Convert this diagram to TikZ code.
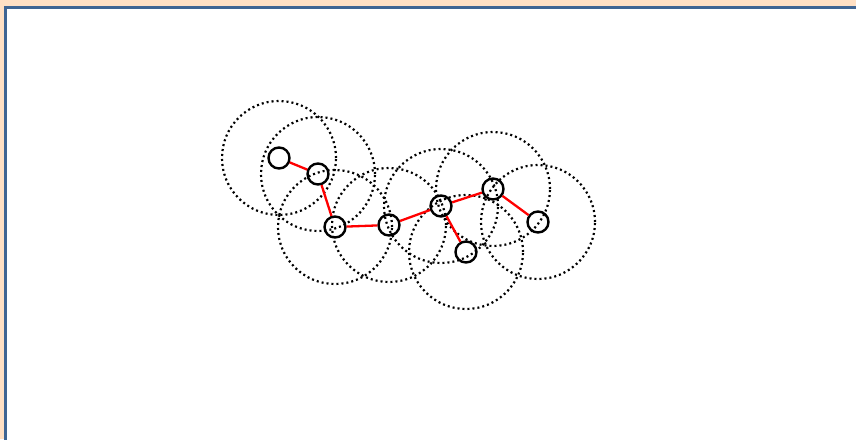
\documentclass[tikz,border=0pt]{standalone}
\usepackage{xcolor}
\usepackage{tikz}
\usetikzlibrary{positioning}
\definecolor{frm}{HTML}{3F6593}
\definecolor{frmbg}{HTML}{FFE0C4}
\tikzset{
  sensor/.style={draw, circle, line width=2.4pt, minimum size=21pt, inner sep=0pt},
  rangecirc/.style={draw, dash pattern=on 2pt off 3pt, line width=2.2pt},
  lnk/.style   ={draw=red, line width=2.3pt},
}

\begin{document}
\begin{tikzpicture}[x=1pt,y=-1pt]
\useasboundingbox (0,0) rectangle (856,439);
\fill[frmbg] (0,0) rectangle (856,439);
\clip (0,0) rectangle (856,439);
\filldraw[fill=white, draw=frm, line width=2.7pt] (5.5,446) -- (5.5,7.3) -- (864,7.3)
  -- (864,446) -- cycle;
% sensors
\node[sensor] (s1) at (279,158) {};
\node[sensor] (s2) at (318,174) {};
\node[sensor] (s3) at (335,227) {};
\node[sensor] (s4) at (389,225) {};
\node[sensor] (s5) at (441,206) {};
\node[sensor] (s6) at (493,189) {};
\node[sensor] (s7) at (538,222) {};
\node[sensor] (s8) at (466,252) {};
% ranges
\foreach \s in {s1,s2,s3,s4,s5,s6,s7,s8}{\draw[rangecirc] (\s.center) circle (57pt);}
% links
\foreach \a/\b in {s1/s2,s2/s3,s3/s4,s4/s5,s5/s6,s6/s7,s5/s8}{\draw[lnk] (\a) -- (\b);}
\end{tikzpicture}
\end{document}
